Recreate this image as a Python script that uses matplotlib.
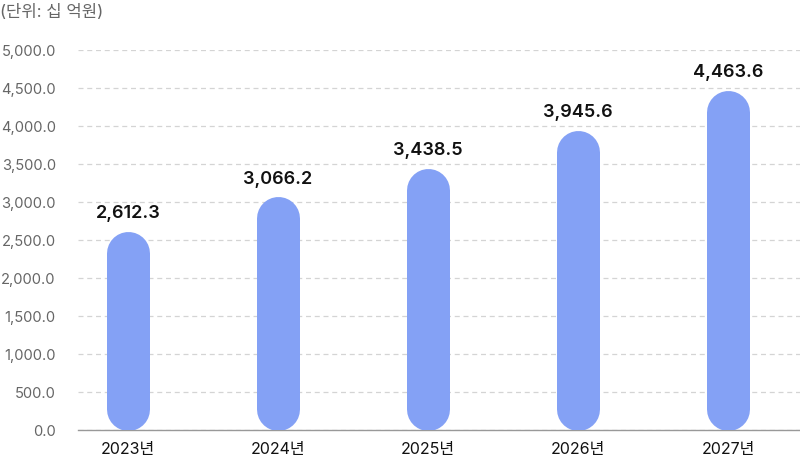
import numpy as np
import matplotlib.pyplot as plt

plt.rcParams['font.family'] = ['Inter', 'Noto Sans CJK KR', 'DejaVu Sans']

## data
years = ['2023년', '2024년', '2025년', '2026년', '2027년']
values = [2612.3, 3066.2, 3438.5, 3945.6, 4463.6]
yticks = np.arange(0, 5001, 500)
unit_label = '(단위: 십 억원)'

bar_color = '#84A1F5'
bar_px = 43  # bar width in pixels

fig = plt.figure(figsize=(8, 4.64), dpi=100)
ax = fig.add_axes([78 / 800, 33 / 464, 722 / 800, 380 / 464])
ax.set_xlim(-1 / 3, 4.48)
ax.set_ylim(0, 5000)

ax.set_yticks(yticks)
ax.set_yticklabels([f'{v:,.1f}' for v in yticks], color='#666666', fontsize=10.6)
ax.set_xticks(range(len(years)))
ax.set_xticklabels(years, color='#111111', fontsize=11.5)
ax.tick_params(axis='y', length=0, pad=16)
ax.tick_params(axis='x', length=0, pad=8)

ax.grid(axis='y', color='#d4d4d4', linestyle=(0, (4, 3)), linewidth=0.9)
ax.set_axisbelow(True)
for s in ['top', 'right', 'left']:
    ax.spines[s].set_visible(False)
ax.spines['bottom'].set_color('#999999')
ax.spines['bottom'].set_linewidth(1)

## radius of the rounded ends in data units
r = bar_px / 2 * 5000 / 380
lw = bar_px * 72 / fig.dpi
for i, v in enumerate(values):
    ax.plot([i, i], [r, v - r], color=bar_color, linewidth=lw,
            solid_capstyle='round', zorder=3)
    ax.annotate(f'{v:,.1f}', (i, v), xytext=(0, 7.5), textcoords='offset points',
                ha='center', va='bottom', fontsize=13, fontweight='semibold',
                color='#111111')

fig.text(0.0, 1 - 12 / 464, unit_label, ha='left', va='center',
         fontsize=12, color='#666666')

fig.savefig('out.png', dpi=100)
